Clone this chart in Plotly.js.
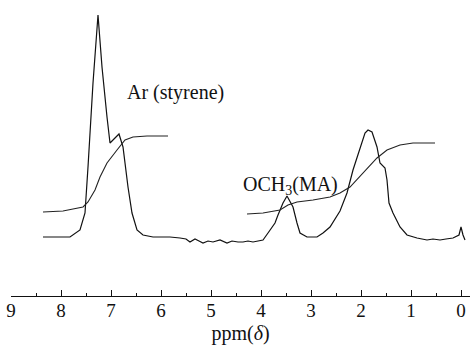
<!DOCTYPE html>
<html>
<head>
<meta charset="utf-8">
<script src="https://cdn.plot.ly/plotly-3.0.1.min.js"></script>
<style>html,body{margin:0;padding:0;background:#fff;}#chart{width:470px;height:347px;}</style>
</head>
<body>
<div id="chart"></div>
<script>
// 1H NMR spectrum (ppm vs relative intensity)
const specPpm = [8.36, 7.82, 7.62, 7.52, 7.46, 7.36, 7.26, 7.18, 7.08, 7.02, 6.84, 6.76, 6.66, 6.58, 6.48, 6.36, 6.16, 5.96, 5.82, 5.62, 5.5, 5.42, 5.32, 5.24, 5.16, 5.06, 4.96, 4.82, 4.74, 4.68, 4.58, 4.46, 4.36, 4.26, 4.16, 4.06, 3.96, 3.86, 3.72, 3.66, 3.56, 3.48, 3.36, 3.28, 3.22, 3.08, 2.88, 2.76, 2.62, 2.42, 2.28, 2.16, 2.02, 1.92, 1.86, 1.78, 1.68, 1.62, 1.52, 1.48, 1.44, 1.36, 1.22, 1.08, 0.88, 0.68, 0.56, 0.42, 0.3, 0.16, 0.04, 0.0, -0.04, -0.08];
const specInt = [3, 3, 10, 27, 73, 157, 225, 173, 123, 97, 106, 93, 53, 27, 10, 5, 3, 3, 3, 2, 1, -2, 1, -1, -3, -1, -2, 0, -2, -3, -1, -2, -2, -1, -2, -1, 0, 7, 17, 25, 37, 44, 33, 17, 7, 3, 3, 7, 13, 29, 47, 70, 93, 107, 110, 108, 93, 77, 72, 60, 37, 27, 13, 5, 2, 0, 1, 0, 1, 2, 5, 13, 5, 0];

// integral curves
const int1Ppm = [8.36, 7.96, 7.76, 7.56, 7.46, 7.32, 7.22, 7.08, 6.88, 6.72, 6.56, 6.28, 5.86];
const int1Val = [28, 29, 31, 33, 38, 50, 63, 77, 90, 100, 103, 104, 104];
const int2Ppm = [4.28, 3.96, 3.62, 3.46, 3.28, 2.96, 2.62, 2.42, 2.22, 1.96, 1.68, 1.48, 1.22, 0.96, 0.52];
const int2Val = [26, 27, 30, 35, 38, 40, 43, 47, 53, 67, 82, 90, 95, 97, 97];

// labels
const labelText = ["Ar (styrene)", "OCH<sub>3</sub>(MA)"];
const labelPpm = [5.72, 3.42];
const labelInt = [148, 55];

const serif = "'Liberation Serif', 'Times New Roman', Times, serif";
const lineStyle = {color: "#111", width: 1.2, shape: "linear"};

const traces = [
  {x: specPpm, y: specInt, mode: "lines", line: lineStyle, hoverinfo: "skip"},
  {x: int1Ppm, y: int1Val, mode: "lines", line: {color: "#222", width: 1.1}, hoverinfo: "skip"},
  {x: int2Ppm, y: int2Val, mode: "lines", line: {color: "#222", width: 1.1}, hoverinfo: "skip"}
];

const layout = {
  width: 470, height: 347,
  margin: {l: 11, r: 0, t: 0, b: 51, pad: 0},
  paper_bgcolor: "#fff", plot_bgcolor: "#fff",
  showlegend: false,
  font: {family: serif, color: "#111"},
  xaxis: {
    range: [9, -0.18], showgrid: false, zeroline: false,
    showline: true, linecolor: "#111", linewidth: 1,
    ticks: "inside", ticklen: 6, tickwidth: 1, tickcolor: "#111",
    dtick: 1, tick0: 0, ticklabelstandoff: -3,
    minor: {dtick: 0.5, ticks: "inside", ticklen: 3, tickwidth: 1, tickcolor: "#111", showgrid: false},
    tickfont: {family: serif, size: 19, color: "#111"},
    title: {text: "ppm(<i>δ</i>)", font: {family: serif, size: 20, color: "#111"}, standoff: 6}
  },
  yaxis: {range: [-56, 240], visible: false, showgrid: false, zeroline: false},
  annotations: labelText.map((t, i) => ({
    x: labelPpm[i], y: labelInt[i], xref: "x", yref: "y", text: t, showarrow: false,
    font: {family: serif, size: 20, color: "#111"}
  }))
};

Plotly.newPlot("chart", traces, layout, {staticPlot: true, displayModeBar: false});
</script>
</body>
</html>
